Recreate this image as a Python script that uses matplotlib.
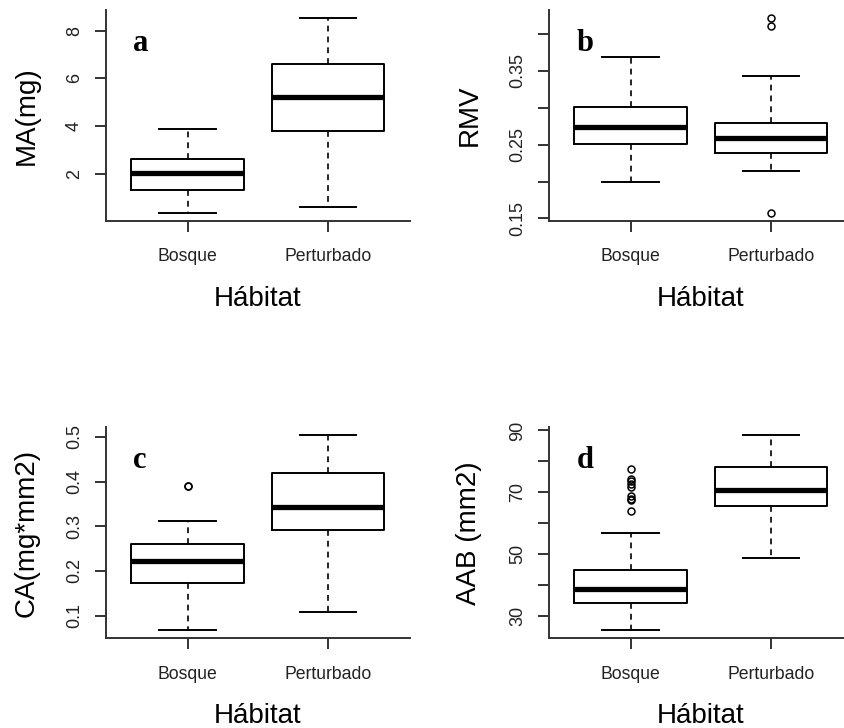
import matplotlib
matplotlib.use('Agg')
from matplotlib import pyplot as plt
import numpy as np

plt.rcParams['font.family'] = ['Liberation Sans', 'DejaVu Sans']

# Groups on the x axis
habitats = ['Bosque', 'Perturbado']
xlabel = 'Hábitat'

# Box statistics: [whisker low, Q1, median, Q3, whisker high]
ma_bosque = [0.35, 1.33, 2.04, 2.62, 3.86]
ma_perturbado = [0.58, 3.80, 5.21, 6.61, 8.55]
ma_fliers = [[], []]

rmv_bosque = [0.1996, 0.2513, 0.274, 0.3017, 0.3687]
rmv_perturbado = [0.2143, 0.2384, 0.2594, 0.279, 0.3424]
rmv_fliers = [[], [0.1576, 0.4103, 0.4223]]

ca_bosque = [0.0667, 0.1726, 0.2222, 0.2593, 0.3127]
ca_perturbado = [0.1074, 0.2911, 0.3438, 0.4193, 0.5038]
ca_fliers = [[0.389, 0.391], []]

aab_bosque = [25.2, 34.2, 38.6, 44.9, 56.9]
aab_perturbado = [48.6, 65.5, 70.8, 78.2, 88.5]
aab_fliers = [[64.0, 67.4, 67.9, 68.8, 71.8, 72.6, 73.5, 74.4, 77.6], []]

# Y axis ticks and which of them carry a label
ma_ticks = [2, 4, 6, 8]
ma_ticklabels = ['2', '4', '6', '8']
rmv_ticks = [0.15, 0.20, 0.25, 0.30, 0.35, 0.40]
rmv_ticklabels = ['0.15', '', '0.25', '', '0.35', '']
ca_ticks = [0.1, 0.2, 0.3, 0.4, 0.5]
ca_ticklabels = ['0.1', '0.2', '0.3', '0.4', '0.5']
aab_ticks = [30, 40, 50, 60, 70, 80, 90]
aab_ticklabels = ['30', '', '50', '', '70', '', '90']


def make_stats(box, fliers):
    return {'whislo': box[0], 'q1': box[1], 'med': box[2],
            'q3': box[3], 'whishi': box[4], 'fliers': fliers}


def panel(fig, rect, boxes, fliers, ylabel, ticks, ticklabels, letter):
    ax = fig.add_axes(rect)
    stats = [make_stats(boxes[i], fliers[i]) for i in range(2)]
    ax.bxp(stats, positions=[1, 2], widths=0.8, capwidths=0.4,
           boxprops=dict(color='black', linewidth=1.4),
           medianprops=dict(color='black', linewidth=3.8),
           whiskerprops=dict(color='black', linewidth=1.2, linestyle=(0, (3.5, 3))),
           capprops=dict(color='black', linewidth=1.4),
           flierprops=dict(marker='o', markersize=5, markerfacecolor='none',
                           markeredgecolor='black', markeredgewidth=1.1))

    # R style range: 4% padding around the data
    lo = min([b[0] for b in boxes] + [v for f in fliers for v in f])
    hi = max([b[4] for b in boxes] + [v for f in fliers for v in f])
    pad = 0.04 * (hi - lo)
    ax.set_ylim(lo - pad, hi + pad)
    ax.set_xlim(0.42, 2.58)

    ax.spines['top'].set_visible(False)
    ax.spines['right'].set_visible(False)
    for s in ['left', 'bottom']:
        ax.spines[s].set_color('#333333')
        ax.spines[s].set_linewidth(1.4)

    ax.set_xticks([1, 2])
    ax.set_xticklabels(habitats, fontsize=12.7, color='#222222')
    ax.set_yticks(ticks)
    ax.set_yticklabels(ticklabels, fontsize=13, color='#222222',
                       rotation=90, va='center')
    ax.tick_params(direction='out', length=8, width=1.4, color='#333333')
    ax.tick_params(axis='x', pad=12)
    ax.tick_params(axis='y', pad=8.5)

    ax.set_ylabel(ylabel, fontsize=20, va='center')
    ax.yaxis.set_label_coords(-0.262, 0.5)
    ax.set_xlabel(xlabel, fontsize=20, va='center')
    ax.xaxis.set_label_coords(0.5, -0.37)

    ax.text(0.09, 0.806, letter, transform=ax.transAxes, ha='left', va='baseline',
            fontsize=22, fontweight='bold', family='Liberation Serif')
    return ax


fig = plt.figure(figsize=(8.44, 7.28), dpi=100)

w = 303.7 / 844
h = 211 / 728
left_1 = 106 / 844
left_2 = 549 / 844
bottom_1 = (728 - 220.7) / 728
bottom_2 = (728 - 638.3) / 728

panel(fig, [left_1, bottom_1, w, h], [ma_bosque, ma_perturbado], ma_fliers,
      'MA(mg)', ma_ticks, ma_ticklabels, 'a')
panel(fig, [left_2, bottom_1, w, h], [rmv_bosque, rmv_perturbado], rmv_fliers,
      'RMV', rmv_ticks, rmv_ticklabels, 'b')
panel(fig, [left_1, bottom_2, w, h], [ca_bosque, ca_perturbado], ca_fliers,
      'CA(mg*mm2)', ca_ticks, ca_ticklabels, 'c')
panel(fig, [left_2, bottom_2, w, h], [aab_bosque, aab_perturbado], aab_fliers,
      'AAB (mm2)', aab_ticks, aab_ticklabels, 'd')

fig.savefig('out.png', dpi=100)
